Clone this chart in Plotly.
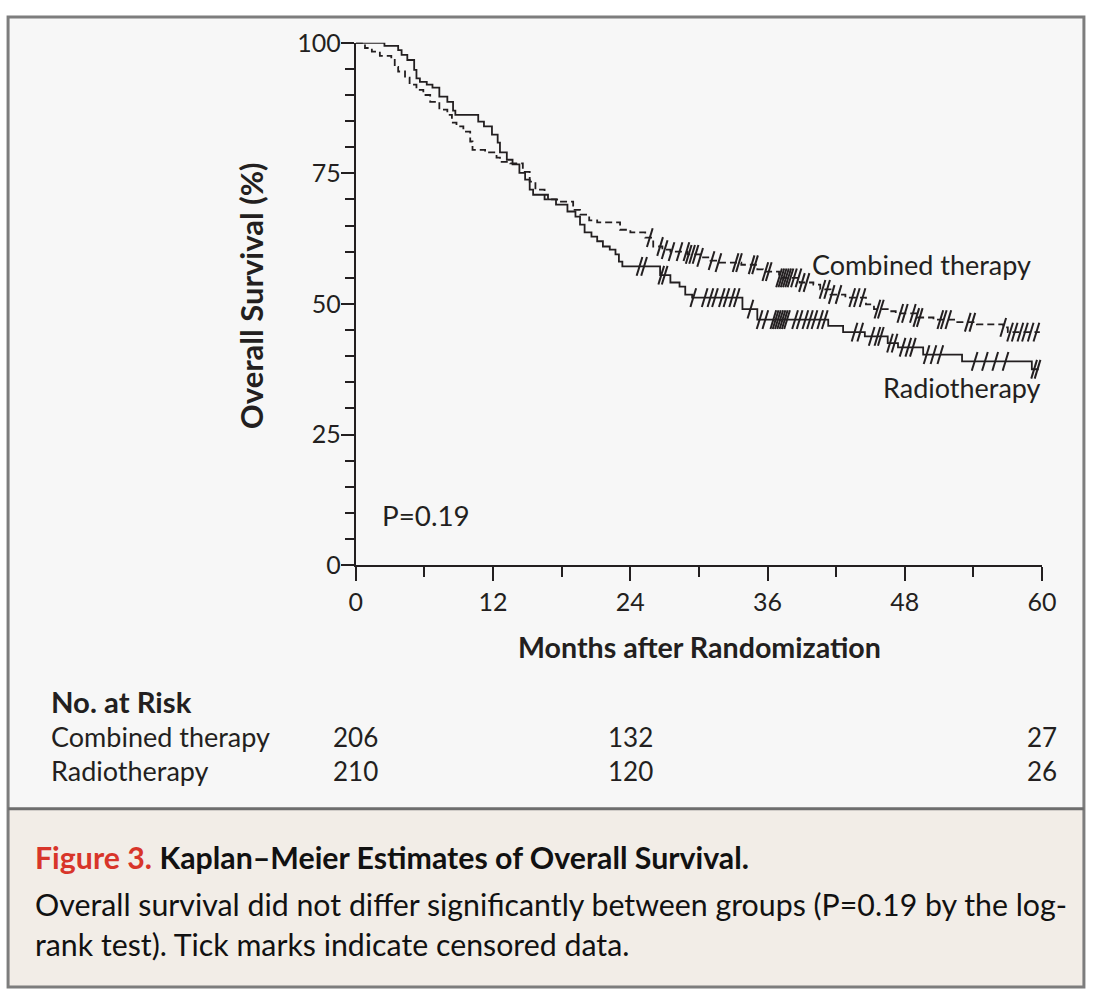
import plotly.graph_objects as go

# ---------------- data ----------------
# Radiotherapy (solid) Kaplan-Meier steps: time (months) and survival (%)
rt_t = [0, 2.5, 3.7, 4.0, 4.5, 5.1, 5.3, 5.6, 6.2, 6.7,
        7.3, 8.0, 8.5, 8.7, 10.7, 11.2, 11.9, 12.4, 12.6, 13.2,
        13.7, 14.3, 14.8, 15.2, 15.5, 16.8, 17.5, 18.5, 19.2, 19.6,
        20.0, 20.6, 21.1, 21.6, 22.2, 22.7, 23.0, 23.3, 26.6, 27.5,
        28.3, 28.8, 29.4, 33.8, 35.1, 41.3, 42.6, 44.5, 46.5, 47.4,
        49.6, 53.0, 59.1]
rt_s = [100, 99.4, 98.6, 97.7, 96.7, 94.8, 93.2, 92.5, 92.0, 91.4,
        89.7, 88.7, 87.0, 86.2, 84.9, 84.0, 82.4, 80.9, 79.0, 77.6,
        76.7, 75.1, 73.8, 71.9, 70.9, 70.0, 69.0, 67.7, 66.7, 65.2,
        63.7, 62.9, 62.0, 61.0, 60.4, 59.5, 58.1, 57.2, 55.5, 54.1,
        53.3, 51.8, 51.2, 49.0, 47.0, 45.8, 44.6, 43.8, 42.5, 41.7,
        40.3, 39.0, 37.5]
rt_end = 59.7
rt_cens = [24.8, 25.2, 26.7, 27.0, 29.5, 30.5, 31.0, 31.4, 32.0, 32.4,
           32.9, 33.3, 34.5, 35.3, 35.8, 36.5, 36.7, 36.9, 37.1, 37.3,
           37.5, 37.7, 38.4, 38.8, 39.3, 39.7, 40.1, 40.6, 41.0, 43.6,
           44.1, 45.1, 45.6, 45.9, 46.7, 47.1, 47.8, 48.3, 48.7, 49.9,
           50.5, 51.1, 54.1, 55.0, 55.9, 56.8, 59.3, 59.6]

# Combined therapy (dashed)
ct_t = [0, 0.8, 1.4, 2.1, 3.1, 3.4, 3.7, 4.3, 4.7, 5.3,
        5.9, 6.5, 7.3, 8.0, 8.4, 8.8, 9.4, 10.0, 10.2, 11.3,
        12.3, 12.6, 13.5, 14.6, 15.2, 15.7, 16.5, 17.6, 19.0, 19.6,
        20.4, 21.1, 23.1, 24.0, 25.3, 26.0, 26.8, 27.5, 29.0, 30.1,
        31.0, 31.6, 33.7, 35.1, 35.6, 37.0, 38.8, 40.0, 40.6, 41.5,
        42.8, 44.6, 45.3, 46.5, 47.2, 49.0, 50.5, 52.5, 54.3, 56.6,
        57.0]
ct_s = [100, 99.0, 98.3, 97.5, 97.0, 95.4, 94.5, 93.3, 92.0, 91.0,
        90.0, 88.7, 87.2, 86.2, 84.7, 84.0, 83.0, 81.1, 79.5, 79.0,
        78.0, 77.2, 76.9, 75.3, 73.4, 71.9, 70.0, 69.6, 68.0, 67.1,
        66.0, 65.6, 64.2, 63.7, 62.7, 61.0, 60.4, 60.0, 59.5, 58.9,
        58.3, 57.9, 57.5, 56.6, 56.2, 55.0, 54.1, 53.7, 52.8, 51.8,
        51.2, 49.9, 49.0, 48.6, 48.2, 47.4, 47.0, 46.5, 46.1, 45.5,
        44.6]
ct_end = 59.8
ct_cens = [25.7, 26.6, 27.0, 27.6, 28.3, 28.9, 29.1, 29.4, 29.7, 30.1,
           31.1, 31.7, 33.2, 33.5, 34.6, 34.9, 35.8, 36.1, 37.0, 37.2,
           37.4, 37.6, 37.8, 38.0, 38.3, 38.7, 39.0, 39.4, 40.8, 41.2,
           41.6, 42.2, 43.4, 43.8, 44.3, 45.6, 45.9, 47.6, 48.0, 48.7,
           49.0, 49.3, 51.1, 51.4, 51.8, 53.5, 53.9, 56.6, 57.2, 57.6,
           58.1, 58.5, 59.0, 59.5]

risk_times = [0, 24, 60]
risk_groups = ["Combined therapy", "Radiotherapy"]
risk_combined = [206, 132, 27]
risk_radio = [210, 120, 26]

x_ticks = [0, 12, 24, 36, 48, 60]
y_ticks = [0, 25, 50, 75, 100]

# ---------------- helpers ----------------
def surv_at(times, surv, t):
    v = surv[0]
    for ti, si in zip(times, surv):
        if ti <= t:
            v = si
        else:
            break
    return v

FONT = "Lato"
INK = "#231f20"

# map a position in the photographed picture to a paper fraction
def FX(s):
    return (s - 7.3) / 0.9796 / 1100

def FY(s):
    return 1 - (s - 16.2) / 0.9713 / 1002

fig = go.Figure()

# curves
fig.add_trace(go.Scatter(x=ct_t + [ct_end], y=ct_s + [ct_s[-1]], mode="lines",
                         line=dict(color=INK, width=1.8, dash="7px,4px", shape="hv"),
                         cliponaxis=False, showlegend=False, hoverinfo="skip"))
fig.add_trace(go.Scatter(x=rt_t + [rt_end], y=rt_s + [rt_s[-1]], mode="lines",
                         line=dict(color=INK, width=1.8, shape="hv"),
                         cliponaxis=False, showlegend=False, hoverinfo="skip"))

# censor ticks
for times, surv, cens in [(ct_t, ct_s, ct_cens), (rt_t, rt_s, rt_cens)]:
    fig.add_trace(go.Scatter(
        x=cens, y=[surv_at(times, surv, c) for c in cens], mode="markers",
        marker=dict(symbol="line-ns", size=14, angle=17,
                    line=dict(color=INK, width=2)),
        cliponaxis=False, showlegend=False, hoverinfo="skip"))

L, R, T, B = 0.001, 0.999, 0.999, 0.001
shapes = [
    dict(type="rect", xref="paper", yref="paper", x0=L, x1=R, y0=FY(810), y1=T,
         fillcolor="#f7f7f7", line=dict(width=0), layer="below"),
    dict(type="rect", xref="paper", yref="paper", x0=L, x1=R, y0=B, y1=FY(810),
         fillcolor="#f2ede7", line=dict(width=0), layer="below"),
    dict(type="rect", xref="paper", yref="paper", x0=L, x1=R, y0=B, y1=T,
         fillcolor="rgba(0,0,0,0)", line=dict(color="#7d7d7d", width=3), layer="above"),
    dict(type="line", xref="paper", yref="paper", x0=L, x1=R, y0=FY(810), y1=FY(810),
         line=dict(color="#6e6e6e", width=3)),
]

def text(t, x, y, size, xanchor="left", bold=False, angle=0, color=INK, xref="paper"):
    return dict(text=("<b>%s</b>" % t) if bold else t, x=x, y=y, xref=xref, yref="paper",
                xanchor=xanchor, yanchor="middle", showarrow=False, textangle=angle,
                font=dict(family=FONT, size=size, color=color))

ann = [
    text("Combined therapy", FX(810), FY(265), 27),
    text("Radiotherapy", FX(1043), FY(388), 27, xanchor="right"),
    text("P=0.19", FX(380), FY(516), 27.8),
    text("Overall Survival (%)", FX(252), FY(296), 31, xanchor="center", bold=True, angle=-90),
    text("Months after Randomization", FX(700), FY(648), 28.6, xanchor="center", bold=True),
    text("No. at Risk", FX(49), FY(703), 29.3, bold=True),
]
for label, vals, yy in [(risk_groups[0], risk_combined, 738), (risk_groups[1], risk_radio, 772)]:
    ann.append(text(label, FX(49), FY(yy), 27))
    for t, v in zip(risk_times, vals):
        ann.append(text(str(v), t, FY(yy), 26, xanchor="center", xref="x"))

CAP = 30.3
ann.append(text("<span style='color:#d8352a'>Figure 3.</span> Kaplan\u2013Meier Estimates of Overall Survival.",
                FX(33), FY(858), CAP, bold=True, color="#111"))
ann.append(text("Overall survival did not differ significantly between groups (P=0.19 by the log-",
                FX(33), FY(905), CAP, color="#111"))
ann.append(text("rank test). Tick marks indicate censored data.",
                FX(33), FY(945), CAP, color="#111"))

fig.update_layout(
    autosize=True,
    margin=dict(l=0, r=0, t=0, b=0, pad=0),
    paper_bgcolor="white", plot_bgcolor="rgba(0,0,0,0)",
    shapes=shapes, annotations=ann,
    xaxis=dict(domain=[FX(356), FX(1042)], range=[0, 60], tickvals=x_ticks,
               ticktext=[str(v) for v in x_ticks],
               showgrid=False, zeroline=False, showline=True, linecolor=INK, linewidth=2,
               ticks="outside", ticklen=14, tickwidth=2, tickcolor=INK,
               minor=dict(dtick=6, ticks="outside", ticklen=10, tickwidth=2, tickcolor=INK, showgrid=False),
               tickfont=dict(family=FONT, size=25, color=INK)),
    yaxis=dict(domain=[FY(566), FY(43)], range=[0, 100], tickvals=y_ticks,
               ticktext=[str(v) for v in y_ticks],
               showgrid=False, zeroline=False, showline=True, linecolor=INK, linewidth=2,
               ticks="outside", ticklen=13, tickwidth=2, tickcolor=INK, ticklabelstandoff=-5,
               minor=dict(dtick=5, ticks="outside", ticklen=9, tickwidth=2, tickcolor=INK, showgrid=False),
               tickfont=dict(family=FONT, size=25, color=INK)),
)

fig.write_html("out.html",
               config={"displayModeBar": False, "responsive": True},
               default_width="100vw", default_height="100vh",
               post_script="document.body.style.margin='0';document.body.style.padding='0';"
                           "document.body.style.overflow='hidden';")
